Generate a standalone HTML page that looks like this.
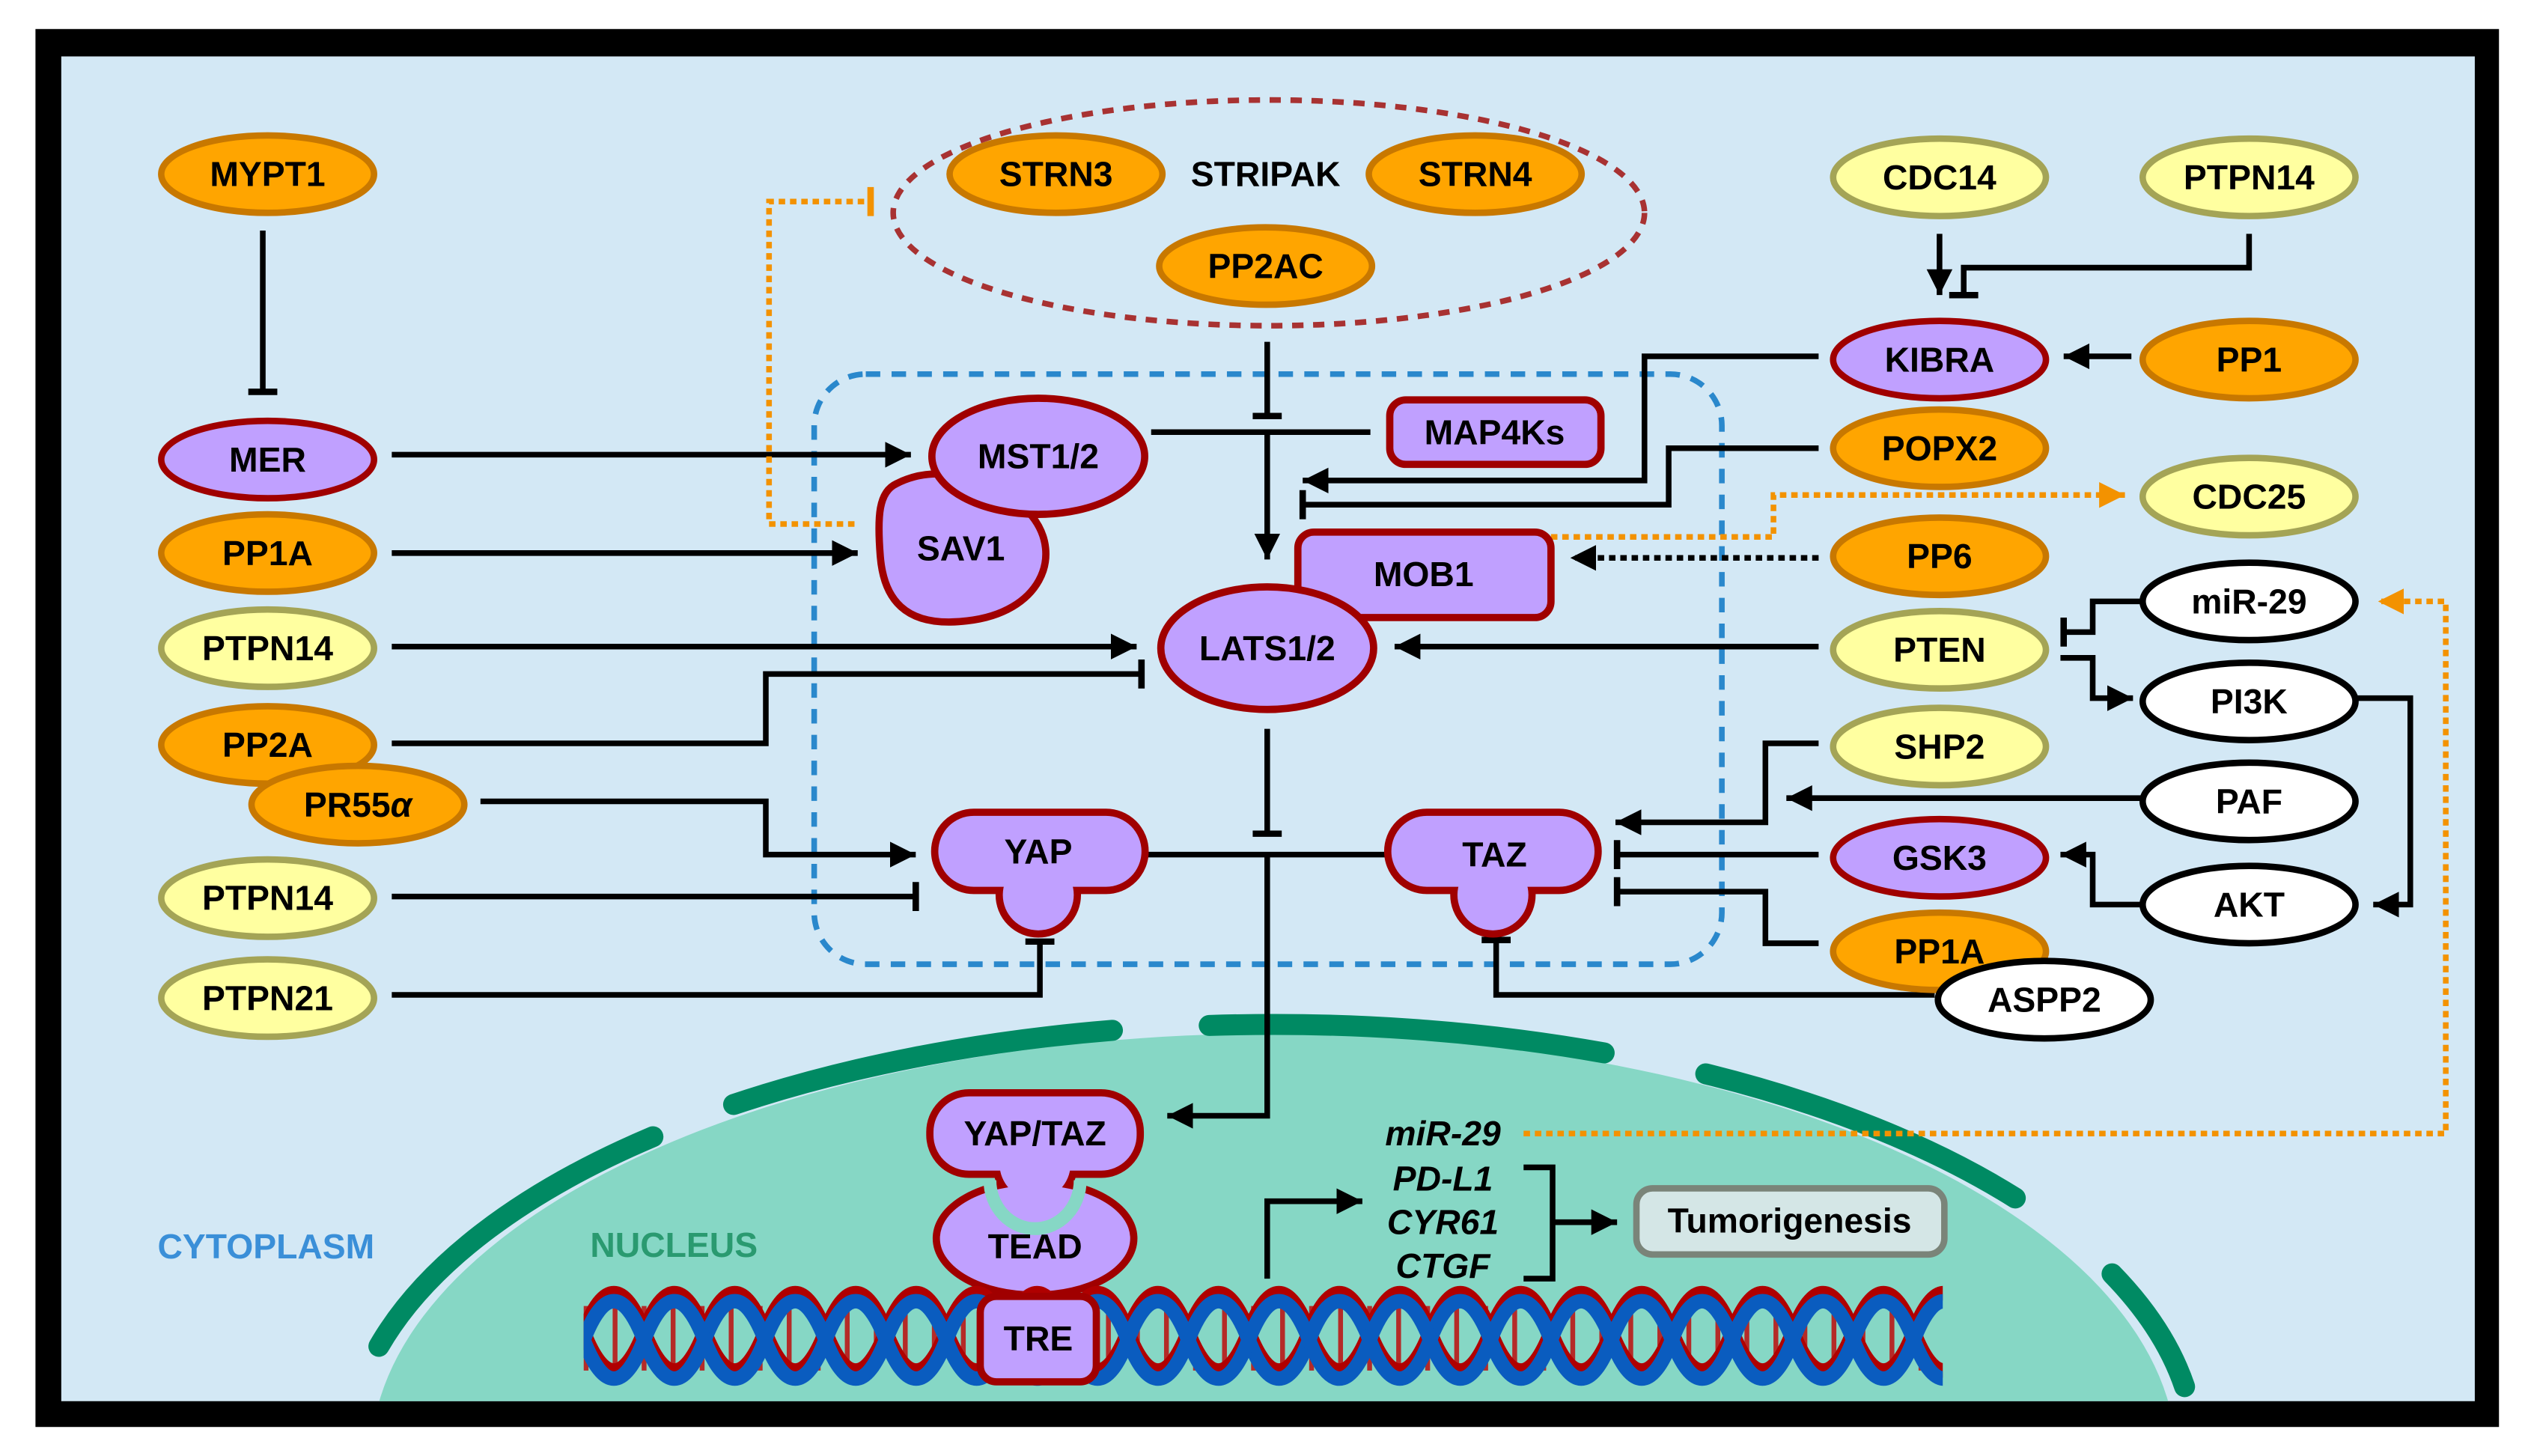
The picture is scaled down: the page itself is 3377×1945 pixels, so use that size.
<!DOCTYPE html>
<html><head><meta charset="utf-8"><style>
html,body{margin:0;padding:0;background:#fff;overflow:hidden;width:3377px;height:1945px;}
svg{display:block;}
text{font-family:"Liberation Sans",sans-serif;font-weight:bold;font-size:21.5px;text-anchor:middle;dominant-baseline:central;fill:#000;}
.k{stroke:#000;stroke-width:3.5;fill:none;}
</style></head><body>
<svg width="3377" height="1945" viewBox="0 0 1568 903" preserveAspectRatio="none" xmlns="http://www.w3.org/2000/svg">
<defs>
<marker id="a" markerUnits="userSpaceOnUse" markerWidth="30" markerHeight="30" refX="16" refY="8" orient="auto"><path d="M0,0 L16,8 L0,16 Z" fill="#000"/></marker>
<marker id="ao" markerUnits="userSpaceOnUse" markerWidth="30" markerHeight="30" refX="16" refY="8" orient="auto"><path d="M0,0 L16,8 L0,16 Z" fill="#f39200"/></marker>
<marker id="b" markerUnits="userSpaceOnUse" markerWidth="10" markerHeight="24" refX="2" refY="12" orient="auto"><path d="M2,3 L2,21" stroke="#000" stroke-width="4"/></marker>
<marker id="bo" markerUnits="userSpaceOnUse" markerWidth="10" markerHeight="24" refX="2" refY="12" orient="auto"><path d="M2,3 L2,21" stroke="#f39200" stroke-width="4"/></marker>
<clipPath id="c"><rect x="38" y="35" width="1497" height="834"/></clipPath>
<clipPath id="d"><rect x="362" y="795" width="843" height="70"/></clipPath>
</defs>
<rect x="22" y="18" width="1528" height="867" fill="#000"/>
<rect x="38" y="35" width="1497" height="834" fill="#d3e8f5"/>
<g clip-path="url(#c)">
<ellipse cx="790" cy="905" rx="560" ry="264" fill="#86d7c5"/>
<g stroke="#008a63" stroke-width="13" fill="none" stroke-linecap="round">
<path d="M235,835 A575 270 0 0 1 405,705"/>
<path d="M455,685 A575 270 0 0 1 690,639"/>
<path d="M750,636 A575 270 0 0 1 995,653"/>
<path d="M1058,666 A575 270 0 0 1 1250,743"/>
<path d="M1310,790 A575 270 0 0 1 1355,860"/>
</g>
</g>
<text x="165" y="773" style="fill:#3a8fd8">CYTOPLASM</text>
<text x="418" y="772" style="fill:#2a9a70">NUCLEUS</text>
<ellipse cx="787" cy="132" rx="233" ry="70" fill="none" stroke="#a83232" stroke-width="3.5" stroke-dasharray="7 6"/>
<rect x="505" y="232" width="563" height="366" rx="32" fill="none" stroke="#2a88cc" stroke-width="3.5" stroke-dasharray="9 7"/>
<g class="k">
<path d="M163,143 V243" marker-end="url(#b)"/>
<path d="M243,282 H565" marker-end="url(#a)"/>
<path d="M243,343 H532" marker-end="url(#a)"/>
<path d="M243,401 H705" marker-end="url(#a)"/>
<path d="M243,461 H475 V418 H708" marker-end="url(#b)"/>
<path d="M298,497 H475 V530 H568" marker-end="url(#a)"/>
<path d="M243,556 H568" marker-end="url(#b)"/>
<path d="M243,617 H645 V584" marker-end="url(#b)"/>
<path d="M786,212 V258" marker-end="url(#b)"/>
<path d="M714,268 H850"/>
<path d="M786,268 V347" marker-end="url(#a)"/>
<path d="M786,452 V517" marker-end="url(#b)"/>
<path d="M712,530 H860"/>
<path d="M786,530 V692 H724" marker-end="url(#a)"/>
<path d="M1128,221 H1020 V298 H808" marker-end="url(#a)"/>
<path d="M1128,278 H1035 V313 H808" marker-end="url(#b)"/>
<path d="M1128,346 H974" stroke-dasharray="4 3" marker-end="url(#a)"/>
<path d="M1128,401 H865" marker-end="url(#a)"/>
<path d="M1328,373 H1298 V392 H1280" marker-end="url(#b)"/>
<path d="M1278,408 H1298 V433 H1323" marker-end="url(#a)"/>
<path d="M1440,433 H1495 V561 H1472" marker-end="url(#a)"/>
<path d="M1328,561 H1298 V530 H1278" marker-end="url(#a)"/>
<path d="M1328,495 H1108" marker-end="url(#a)"/>
<path d="M1128,461 H1095 V510 H1002" marker-end="url(#a)"/>
<path d="M1128,530 H1003" marker-end="url(#b)"/>
<path d="M1128,585 H1095 V553 H1003" marker-end="url(#b)"/>
<path d="M1200,617 H928 V583" marker-end="url(#b)"/>
<path d="M1203,145 V183" marker-end="url(#a)"/>
<path d="M1395,145 V166 H1218 V183" marker-end="url(#b)"/>
<path d="M1322,221 H1280" marker-end="url(#a)"/>
<path d="M786,793 V745 H845" marker-end="url(#a)"/>
<path d="M945,724 H963 V793 H945"/>
<path d="M963,758 H1003" marker-end="url(#a)"/>
</g>
<g fill="none" stroke="#f39200" stroke-width="3.5" stroke-dasharray="4 3">
<path d="M962,333 H1100 V307 H1318" marker-end="url(#ao)"/>
<path d="M530,325 H477 V125 H540" marker-end="url(#bo)"/>
<path d="M945,703 H1517 V373 H1475" marker-end="url(#ao)"/>
</g>
<g stroke-width="4">
<g fill="#ffa500" stroke="#c87800">
<ellipse cx="166" cy="108" rx="66" ry="24"/><ellipse cx="166" cy="343" rx="66" ry="24"/>
<ellipse cx="166" cy="462" rx="66" ry="24"/><ellipse cx="222" cy="499" rx="66" ry="24"/>
<ellipse cx="655" cy="108" rx="66" ry="24"/><ellipse cx="915" cy="108" rx="66" ry="24"/>
<ellipse cx="785" cy="165" rx="66" ry="24"/>
<ellipse cx="1395" cy="223" rx="66" ry="24"/><ellipse cx="1203" cy="278" rx="66" ry="24"/>
<ellipse cx="1203" cy="345" rx="66" ry="24"/>
</g>
<g fill="#ffffa0" stroke="#a4a456">
<ellipse cx="166" cy="402" rx="66" ry="24"/><ellipse cx="166" cy="557" rx="66" ry="24"/>
<ellipse cx="166" cy="619" rx="66" ry="24"/>
<ellipse cx="1203" cy="110" rx="66" ry="24"/><ellipse cx="1395" cy="110" rx="66" ry="24"/>
<ellipse cx="1395" cy="308" rx="66" ry="24"/><ellipse cx="1203" cy="403" rx="66" ry="24"/>
<ellipse cx="1203" cy="463" rx="66" ry="24"/>
</g>
<g fill="#c0a0ff" stroke="#a00000">
<ellipse cx="166" cy="285" rx="66" ry="24"/><ellipse cx="1203" cy="223" rx="66" ry="24"/>
<ellipse cx="1203" cy="532" rx="66" ry="24"/>
</g>
<g fill="#ffa500" stroke="#c87800"><ellipse cx="1203" cy="590" rx="66" ry="24"/></g>
<g fill="#fff" stroke="#000">
<ellipse cx="1395" cy="373" rx="66" ry="24"/><ellipse cx="1395" cy="435" rx="66" ry="24"/>
<ellipse cx="1395" cy="497" rx="66" ry="24"/><ellipse cx="1395" cy="561" rx="66" ry="24"/>
<ellipse cx="1268" cy="620" rx="66" ry="24"/>
</g>
</g>
<g fill="#c0a0ff" stroke="#a00000" stroke-width="4.5">
<path d="M556,300 C585,285 620,300 640,320 C660,345 645,380 600,385 C560,390 548,370 546,345 C544,320 545,305 556,300 Z"/>
<ellipse cx="644" cy="283" rx="66" ry="36"/>
<rect x="862" y="248" width="131" height="40" rx="10"/>
<rect x="805" y="330" width="157" height="53" rx="10"/>
<ellipse cx="786" cy="402" rx="66" ry="38"/>
</g>
<g stroke="#a00000" stroke-width="9" fill="#a00000">
<rect x="582" y="506" width="126" height="44" rx="22"/><circle cx="644" cy="555" r="22"/>
<rect x="863" y="506" width="126" height="44" rx="22"/><circle cx="926" cy="555" r="22"/>
<ellipse cx="642" cy="768" rx="59" ry="33"/>
<rect x="579" y="680" width="126" height="46" rx="22"/><circle cx="642" cy="722" r="22"/>
</g>
<g fill="#c0a0ff">
<rect x="582" y="506" width="126" height="44" rx="22"/><circle cx="644" cy="555" r="22"/>
<rect x="863" y="506" width="126" height="44" rx="22"/><circle cx="926" cy="555" r="22"/>
<ellipse cx="642" cy="768" rx="59" ry="33"/>
</g>
<path d="M614,732 A28 30 0 0 0 670,732" fill="none" stroke="#86d7c5" stroke-width="8"/>
<g fill="#c0a0ff"><rect x="579" y="680" width="126" height="46" rx="22"/><circle cx="642" cy="722" r="22"/></g>
<g fill="none" clip-path="url(#d)">
<path d="M362,830 H1205" stroke="#c00000" stroke-width="40" stroke-dasharray="3 15" opacity="0.8"/>
<path d="M362,826 Q380.75,778 399.5,826 T437,826 T474.5,826 T512,826 T549.5,826 T587,826 T624.5,826 T662,826 T699.5,826 T737,826 T774.5,826 T812,826 T849.5,826 T887,826 T924.5,826 T962,826 T999.5,826 T1037,826 T1074.5,826 T1112,826 T1149.5,826 T1187,826 T1224.5,826" stroke="#b00000" stroke-width="9"/>
<path d="M362,826 Q380.75,874 399.5,826 T437,826 T474.5,826 T512,826 T549.5,826 T587,826 T624.5,826 T662,826 T699.5,826 T737,826 T774.5,826 T812,826 T849.5,826 T887,826 T924.5,826 T962,826 T999.5,826 T1037,826 T1074.5,826 T1112,826 T1149.5,826 T1187,826 T1224.5,826" stroke="#b00000" stroke-width="9"/>
<path d="M362,831 Q380.75,783 399.5,831 T437,831 T474.5,831 T512,831 T549.5,831 T587,831 T624.5,831 T662,831 T699.5,831 T737,831 T774.5,831 T812,831 T849.5,831 T887,831 T924.5,831 T962,831 T999.5,831 T1037,831 T1074.5,831 T1112,831 T1149.5,831 T1187,831 T1224.5,831" stroke="#0a5cbf" stroke-width="9"/>
<path d="M362,831 Q380.75,879 399.5,831 T437,831 T474.5,831 T512,831 T549.5,831 T587,831 T624.5,831 T662,831 T699.5,831 T737,831 T774.5,831 T812,831 T849.5,831 T887,831 T924.5,831 T962,831 T999.5,831 T1037,831 T1074.5,831 T1112,831 T1149.5,831 T1187,831 T1224.5,831" stroke="#0a5cbf" stroke-width="9"/>
</g>
<rect x="608" y="804" width="72" height="53" rx="10" fill="#c0a0ff" stroke="#a00000" stroke-width="4.5"/>
<rect x="1015" y="737" width="191" height="41" rx="10" fill="#d4e6e6" stroke="#7a8479" stroke-width="4"/>
<text x="166" y="108">MYPT1</text><text x="166" y="285">MER</text><text x="166" y="343">PP1A</text>
<text x="166" y="402">PTPN14</text><text x="166" y="462">PP2A</text><text x="222" y="499">PR55<tspan font-style="italic">α</tspan></text>
<text x="166" y="557">PTPN14</text><text x="166" y="619">PTPN21</text>
<text x="655" y="108">STRN3</text><text x="785" y="108">STRIPAK</text><text x="915" y="108">STRN4</text>
<text x="785" y="165">PP2AC</text>
<text x="1203" y="110">CDC14</text><text x="1395" y="110">PTPN14</text>
<text x="1203" y="223">KIBRA</text><text x="1395" y="223">PP1</text>
<text x="1203" y="278">POPX2</text><text x="1395" y="308">CDC25</text>
<text x="1203" y="345">PP6</text><text x="1395" y="373">miR-29</text>
<text x="1203" y="403">PTEN</text><text x="1395" y="435">PI3K</text>
<text x="1203" y="463">SHP2</text><text x="1395" y="497">PAF</text>
<text x="1203" y="532">GSK3</text><text x="1395" y="561">AKT</text>
<text x="1203" y="590">PP1A</text><text x="1268" y="620">ASPP2</text>
<text x="644" y="283">MST1/2</text><text x="596" y="340">SAV1</text>
<text x="927" y="268">MAP4Ks</text><text x="883" y="356">MOB1</text>
<text x="786" y="402">LATS1/2</text>
<text x="644" y="528">YAP</text><text x="927" y="530">TAZ</text>
<text x="642" y="703">YAP/TAZ</text><text x="642" y="773">TEAD</text><text x="644" y="830">TRE</text>
<g font-style="italic"><text x="895" y="703">miR-29</text><text x="895" y="731">PD-L1</text>
<text x="895" y="758">CYR61</text><text x="895" y="785">CTGF</text></g>
<text x="1110" y="757">Tumorigenesis</text>
</svg>
</body></html>
